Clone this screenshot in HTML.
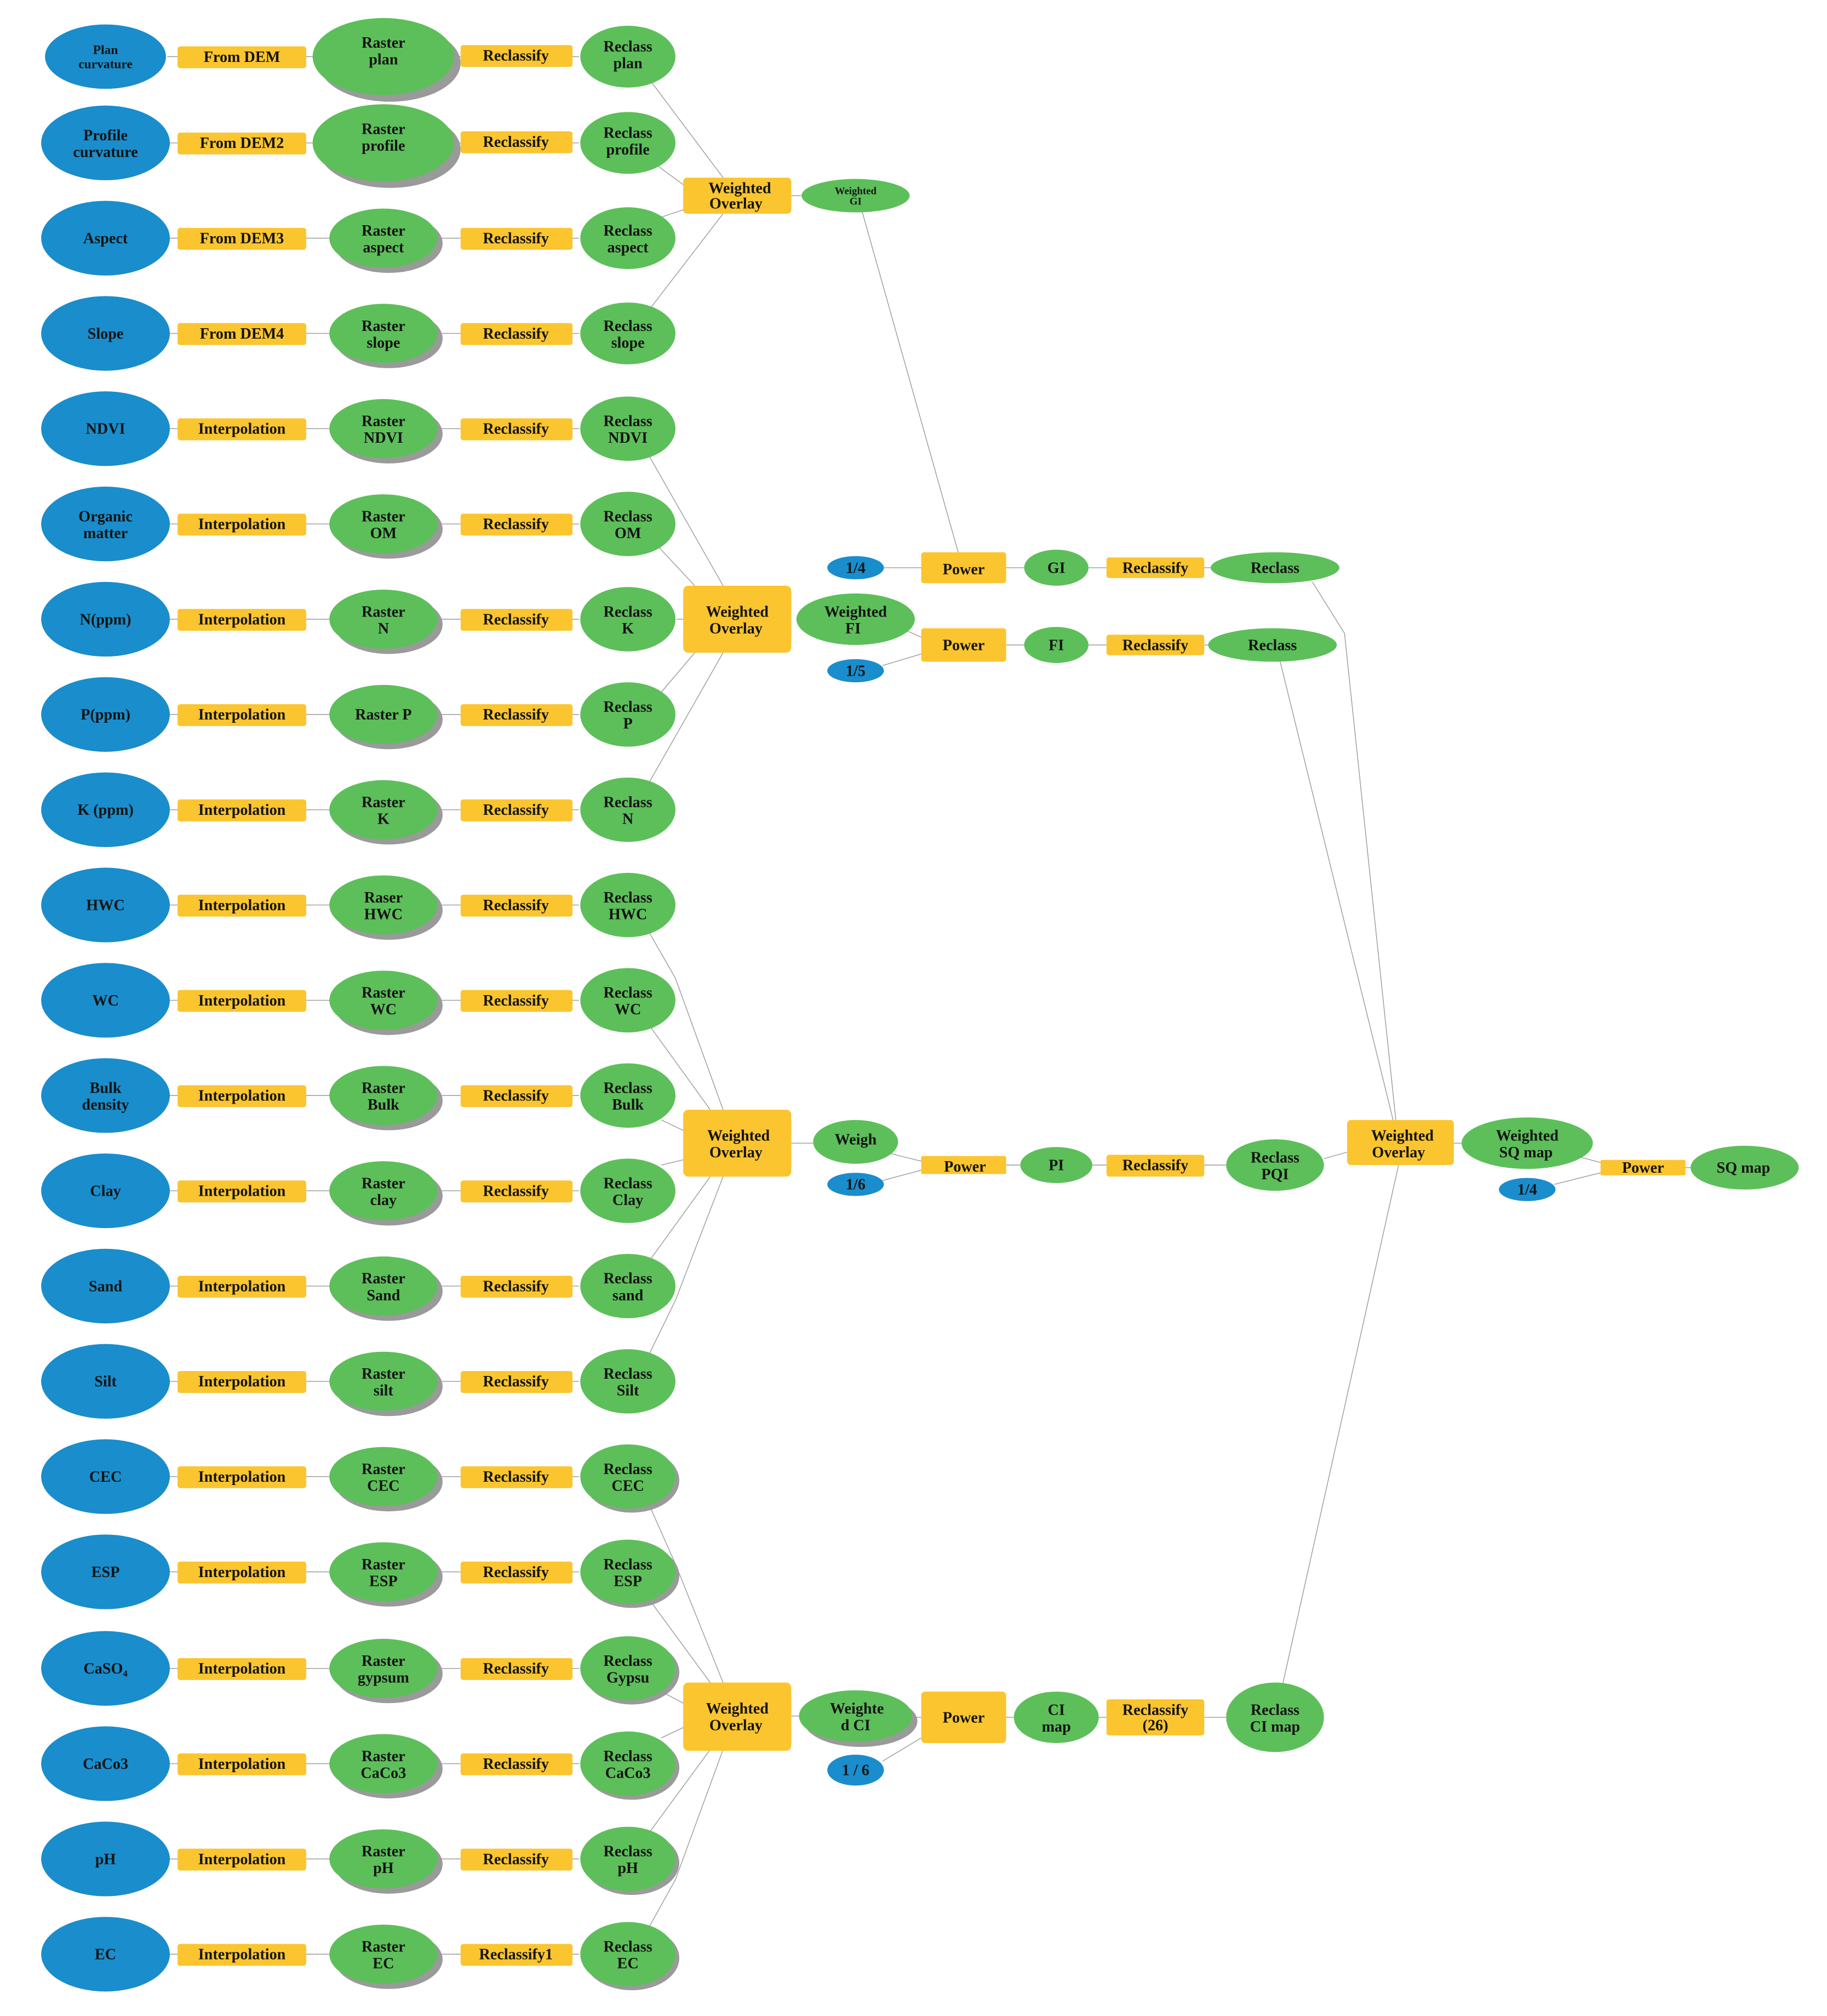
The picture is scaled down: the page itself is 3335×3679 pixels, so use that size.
<!DOCTYPE html>
<html><head><meta charset="utf-8"><style>
html,body{margin:0;padding:0;background:#fff;}
svg{display:block}
.b{fill:#1a8dcc}.g{fill:#5dbf5a}.o{fill:#fbc52f}.s{fill:#9a9a9a}
text{font-family:"Liberation Serif",serif;font-weight:bold;font-size:12px;fill:#141414;text-anchor:middle}
line,polyline{stroke:#9a9a9a;stroke-width:0.6;fill:none}
</style></head><body>
<svg width="3335" height="3679" viewBox="0 0 1420 1566" preserveAspectRatio="none" xmlns="http://www.w3.org/2000/svg">
<rect width="1420" height="1566" fill="#fff"/>
<!-- horizontal row connectors -->
<g>
<line x1="130" y1="44" x2="450" y2="44"/><line x1="130" y1="111" x2="450" y2="111"/><line x1="130" y1="185" x2="450" y2="185"/><line x1="130" y1="259" x2="450" y2="259"/><line x1="130" y1="333" x2="450" y2="333"/><line x1="130" y1="407" x2="450" y2="407"/><line x1="130" y1="481" x2="450" y2="481"/><line x1="130" y1="555" x2="450" y2="555"/><line x1="130" y1="629" x2="450" y2="629"/><line x1="130" y1="703" x2="450" y2="703"/><line x1="130" y1="777" x2="450" y2="777"/><line x1="130" y1="851" x2="450" y2="851"/><line x1="130" y1="925" x2="450" y2="925"/><line x1="130" y1="999" x2="450" y2="999"/><line x1="130" y1="1073" x2="450" y2="1073"/><line x1="130" y1="1147" x2="450" y2="1147"/><line x1="130" y1="1221" x2="450" y2="1221"/><line x1="130" y1="1296" x2="450" y2="1296"/><line x1="130" y1="1370" x2="450" y2="1370"/><line x1="130" y1="1444" x2="450" y2="1444"/><line x1="130" y1="1518" x2="450" y2="1518"/>
</g>
<!-- lines to weighted overlays -->
<g>
<line x1="505" y1="62" x2="562" y2="138"/><line x1="510" y1="128" x2="540" y2="150"/><line x1="510" y1="170" x2="540" y2="160"/><line x1="505" y1="240" x2="562" y2="166"/>
<line x1="505" y1="355" x2="562" y2="455"/><line x1="512" y1="425" x2="540" y2="455"/><line x1="526" y1="481" x2="531" y2="481"/><line x1="512" y1="540" x2="540" y2="507"/><line x1="505" y1="607" x2="562" y2="507"/>
<polyline points="505,725 525,760 562,862"/><line x1="505" y1="797" x2="552" y2="862"/><line x1="514" y1="870" x2="535" y2="880"/><line x1="514" y1="905" x2="535" y2="900"/><line x1="505" y1="979" x2="552" y2="914"/><polyline points="505,1051 525,1010 562,914"/>
<polyline points="505,1170 525,1215 562,1307"/><line x1="505" y1="1243" x2="552" y2="1307"/><line x1="514" y1="1314" x2="535" y2="1325"/><line x1="514" y1="1350" x2="535" y2="1340"/><line x1="505" y1="1423" x2="552" y2="1359"/><polyline points="505,1496 525,1460 562,1359"/>
<!-- right side -->
<line x1="615" y1="152" x2="623" y2="152"/><line x1="670" y1="164" x2="745" y2="430"/>
<line x1="687" y1="441" x2="716" y2="441"/><line x1="782" y1="441" x2="796" y2="441"/><line x1="846" y1="441" x2="860" y2="441"/><line x1="936" y1="441" x2="941" y2="441"/>
<line x1="705" y1="490" x2="716" y2="495"/><line x1="686" y1="517" x2="716" y2="508"/><line x1="782" y1="501" x2="796" y2="501"/><line x1="846" y1="501" x2="860" y2="501"/><line x1="936" y1="501" x2="941" y2="501"/>
<polyline points="1020,452 1045,492 1085,871"/><line x1="995" y1="514" x2="1083" y2="871"/>
<line x1="615" y1="888" x2="632" y2="888"/><line x1="692" y1="896" x2="716" y2="902"/><line x1="686" y1="917" x2="716" y2="909"/><line x1="782" y1="905" x2="793" y2="905"/><line x1="849" y1="905" x2="860" y2="905"/><line x1="936" y1="905" x2="953" y2="905"/><line x1="1029" y1="900" x2="1047" y2="895"/>
<line x1="997" y1="1308" x2="1087" y2="905"/>
<line x1="615" y1="1333" x2="621" y2="1333"/><line x1="709" y1="1334" x2="716" y2="1334"/><line x1="686" y1="1368" x2="716" y2="1350"/><line x1="782" y1="1334" x2="788" y2="1334"/><line x1="854" y1="1334" x2="860" y2="1334"/><line x1="936" y1="1334" x2="953" y2="1334"/>
<line x1="1130" y1="888" x2="1137" y2="888"/><line x1="1225" y1="898" x2="1244" y2="903"/><line x1="1208" y1="920" x2="1244" y2="911"/><line x1="1310" y1="907" x2="1314" y2="907"/>
</g>

<!-- Row nodes -->
<g id="rows">
<!-- row 1 -->
<ellipse class="b" cx="82" cy="44" rx="47" ry="25"/>
<rect class="o" x="138" y="36" width="100" height="17" rx="2"/>
<ellipse class="s" cx="303" cy="49" rx="55" ry="30"/><ellipse class="g" cx="298" cy="44" rx="55" ry="30"/>
<rect class="o" x="358" y="35" width="87" height="17" rx="2"/>
<ellipse class="g" cx="488" cy="44" rx="37" ry="24"/>
<text x="82" y="42" style="font-size:10px">Plan</text><text x="82" y="53" style="font-size:10px">curvature</text>
<text x="188" y="48">From DEM</text><text x="298" y="37">Raster</text><text x="298" y="50">plan</text>
<text x="401" y="47">Reclassify</text><text x="488" y="40">Reclass</text><text x="488" y="53">plan</text>
<!-- row 2 -->
<ellipse class="b" cx="82" cy="111" rx="50" ry="29"/>
<rect class="o" x="138" y="103" width="100" height="17" rx="2"/>
<ellipse class="s" cx="303" cy="116" rx="55" ry="30"/><ellipse class="g" cx="298" cy="111" rx="55" ry="30"/>
<rect class="o" x="358" y="102" width="87" height="17" rx="2"/>
<ellipse class="g" cx="488" cy="111" rx="37" ry="24"/>
<text x="82" y="109">Profile</text><text x="82" y="122">curvature</text>
<text x="188" y="115">From DEM2</text><text x="298" y="104">Raster</text><text x="298" y="117">profile</text>
<text x="401" y="114">Reclassify</text><text x="488" y="107">Reclass</text><text x="488" y="120">profile</text>
<!-- row 3 -->
<ellipse class="b" cx="82" cy="185" rx="50" ry="29"/>
<rect class="o" x="138" y="177" width="100" height="17" rx="2"/>
<ellipse class="s" cx="302" cy="189" rx="42" ry="23"/><ellipse class="g" cx="298" cy="185" rx="42" ry="23"/>
<rect class="o" x="358" y="177" width="87" height="17" rx="2"/>
<ellipse class="g" cx="488" cy="185" rx="37" ry="24"/>
<text x="82" y="189">Aspect</text>
<text x="188" y="189">From DEM3</text><text x="298" y="183">Raster</text><text x="298" y="196">aspect</text>
<text x="401" y="189">Reclassify</text><text x="488" y="183">Reclass</text><text x="488" y="196">aspect</text>
<!-- row 4 -->
<ellipse class="b" cx="82" cy="259" rx="50" ry="29"/>
<rect class="o" x="138" y="251" width="100" height="17" rx="2"/>
<ellipse class="s" cx="302" cy="263" rx="42" ry="23"/><ellipse class="g" cx="298" cy="259" rx="42" ry="23"/>
<rect class="o" x="358" y="251" width="87" height="17" rx="2"/>
<ellipse class="g" cx="488" cy="259" rx="37" ry="24"/>
<text x="82" y="263">Slope</text>
<text x="188" y="263">From DEM4</text><text x="298" y="257">Raster</text><text x="298" y="270">slope</text>
<text x="401" y="263">Reclassify</text><text x="488" y="257">Reclass</text><text x="488" y="270">slope</text>
</g>

<!-- Interpolation rows -->
<g>
<!-- template per row: Y -->
<!-- 5 NDVI 333 -->
<ellipse class="b" cx="82" cy="333" rx="50" ry="29"/><rect class="o" x="138" y="325" width="100" height="17" rx="2"/><ellipse class="s" cx="302" cy="337" rx="42" ry="23"/><ellipse class="g" cx="298" cy="333" rx="42" ry="23"/><rect class="o" x="358" y="325" width="87" height="17" rx="2"/><ellipse class="g" cx="488" cy="333" rx="37" ry="25"/>
<text x="82" y="337">NDVI</text><text x="188" y="337">Interpolation</text><text x="298" y="331">Raster</text><text x="298" y="344">NDVI</text><text x="401" y="337">Reclassify</text><text x="488" y="331">Reclass</text><text x="488" y="344">NDVI</text>
<!-- 6 OM 407 -->
<ellipse class="b" cx="82" cy="407" rx="50" ry="29"/><rect class="o" x="138" y="399" width="100" height="17" rx="2"/><ellipse class="s" cx="302" cy="411" rx="42" ry="23"/><ellipse class="g" cx="298" cy="407" rx="42" ry="23"/><rect class="o" x="358" y="399" width="87" height="17" rx="2"/><ellipse class="g" cx="488" cy="407" rx="37" ry="25"/>
<text x="82" y="405">Organic</text><text x="82" y="418">matter</text><text x="188" y="411">Interpolation</text><text x="298" y="405">Raster</text><text x="298" y="418">OM</text><text x="401" y="411">Reclassify</text><text x="488" y="405">Reclass</text><text x="488" y="418">OM</text>
<!-- 7 N 481 -->
<ellipse class="b" cx="82" cy="481" rx="50" ry="29"/><rect class="o" x="138" y="473" width="100" height="17" rx="2"/><ellipse class="s" cx="302" cy="485" rx="42" ry="23"/><ellipse class="g" cx="298" cy="481" rx="42" ry="23"/><rect class="o" x="358" y="473" width="87" height="17" rx="2"/><ellipse class="g" cx="488" cy="481" rx="37" ry="25"/>
<text x="82" y="485">N(ppm)</text><text x="188" y="485">Interpolation</text><text x="298" y="479">Raster</text><text x="298" y="492">N</text><text x="401" y="485">Reclassify</text><text x="488" y="479">Reclass</text><text x="488" y="492">K</text>
<!-- 8 P 555 -->
<ellipse class="b" cx="82" cy="555" rx="50" ry="29"/><rect class="o" x="138" y="547" width="100" height="17" rx="2"/><ellipse class="s" cx="302" cy="559" rx="42" ry="23"/><ellipse class="g" cx="298" cy="555" rx="42" ry="23"/><rect class="o" x="358" y="547" width="87" height="17" rx="2"/><ellipse class="g" cx="488" cy="555" rx="37" ry="25"/>
<text x="82" y="559">P(ppm)</text><text x="188" y="559">Interpolation</text><text x="298" y="559">Raster P</text><text x="401" y="559">Reclassify</text><text x="488" y="553">Reclass</text><text x="488" y="566">P</text>
<!-- 9 K 629 -->
<ellipse class="b" cx="82" cy="629" rx="50" ry="29"/><rect class="o" x="138" y="621" width="100" height="17" rx="2"/><ellipse class="s" cx="302" cy="633" rx="42" ry="23"/><ellipse class="g" cx="298" cy="629" rx="42" ry="23"/><rect class="o" x="358" y="621" width="87" height="17" rx="2"/><ellipse class="g" cx="488" cy="629" rx="37" ry="25"/>
<text x="82" y="633">K (ppm)</text><text x="188" y="633">Interpolation</text><text x="298" y="627">Raster</text><text x="298" y="640">K</text><text x="401" y="633">Reclassify</text><text x="488" y="627">Reclass</text><text x="488" y="640">N</text>
<!-- 10 HWC 703 -->
<ellipse class="b" cx="82" cy="703" rx="50" ry="29"/><rect class="o" x="138" y="695" width="100" height="17" rx="2"/><ellipse class="s" cx="302" cy="707" rx="42" ry="23"/><ellipse class="g" cx="298" cy="703" rx="42" ry="23"/><rect class="o" x="358" y="695" width="87" height="17" rx="2"/><ellipse class="g" cx="488" cy="703" rx="37" ry="25"/>
<text x="82" y="707">HWC</text><text x="188" y="707">Interpolation</text><text x="298" y="701">Raser</text><text x="298" y="714">HWC</text><text x="401" y="707">Reclassify</text><text x="488" y="701">Reclass</text><text x="488" y="714">HWC</text>
<!-- 11 WC 777 -->
<ellipse class="b" cx="82" cy="777" rx="50" ry="29"/><rect class="o" x="138" y="769" width="100" height="17" rx="2"/><ellipse class="s" cx="302" cy="781" rx="42" ry="23"/><ellipse class="g" cx="298" cy="777" rx="42" ry="23"/><rect class="o" x="358" y="769" width="87" height="17" rx="2"/><ellipse class="g" cx="488" cy="777" rx="37" ry="25"/>
<text x="82" y="781">WC</text><text x="188" y="781">Interpolation</text><text x="298" y="775">Raster</text><text x="298" y="788">WC</text><text x="401" y="781">Reclassify</text><text x="488" y="775">Reclass</text><text x="488" y="788">WC</text>
<!-- 12 Bulk 851 -->
<ellipse class="b" cx="82" cy="851" rx="50" ry="29"/><rect class="o" x="138" y="843" width="100" height="17" rx="2"/><ellipse class="s" cx="302" cy="855" rx="42" ry="23"/><ellipse class="g" cx="298" cy="851" rx="42" ry="23"/><rect class="o" x="358" y="843" width="87" height="17" rx="2"/><ellipse class="g" cx="488" cy="851" rx="37" ry="25"/>
<text x="82" y="849">Bulk</text><text x="82" y="862">density</text><text x="188" y="855">Interpolation</text><text x="298" y="849">Raster</text><text x="298" y="862">Bulk</text><text x="401" y="855">Reclassify</text><text x="488" y="849">Reclass</text><text x="488" y="862">Bulk</text>
<!-- 13 Clay 925 -->
<ellipse class="b" cx="82" cy="925" rx="50" ry="29"/><rect class="o" x="138" y="917" width="100" height="17" rx="2"/><ellipse class="s" cx="302" cy="929" rx="42" ry="23"/><ellipse class="g" cx="298" cy="925" rx="42" ry="23"/><rect class="o" x="358" y="917" width="87" height="17" rx="2"/><ellipse class="g" cx="488" cy="925" rx="37" ry="25"/>
<text x="82" y="929">Clay</text><text x="188" y="929">Interpolation</text><text x="298" y="923">Raster</text><text x="298" y="936">clay</text><text x="401" y="929">Reclassify</text><text x="488" y="923">Reclass</text><text x="488" y="936">Clay</text>
<!-- 14 Sand 999 -->
<ellipse class="b" cx="82" cy="999" rx="50" ry="29"/><rect class="o" x="138" y="991" width="100" height="17" rx="2"/><ellipse class="s" cx="302" cy="1003" rx="42" ry="23"/><ellipse class="g" cx="298" cy="999" rx="42" ry="23"/><rect class="o" x="358" y="991" width="87" height="17" rx="2"/><ellipse class="g" cx="488" cy="999" rx="37" ry="25"/>
<text x="82" y="1003">Sand</text><text x="188" y="1003">Interpolation</text><text x="298" y="997">Raster</text><text x="298" y="1010">Sand</text><text x="401" y="1003">Reclassify</text><text x="488" y="997">Reclass</text><text x="488" y="1010">sand</text>
<!-- 15 Silt 1073 -->
<ellipse class="b" cx="82" cy="1073" rx="50" ry="29"/><rect class="o" x="138" y="1065" width="100" height="17" rx="2"/><ellipse class="s" cx="302" cy="1077" rx="42" ry="23"/><ellipse class="g" cx="298" cy="1073" rx="42" ry="23"/><rect class="o" x="358" y="1065" width="87" height="17" rx="2"/><ellipse class="g" cx="488" cy="1073" rx="37" ry="25"/>
<text x="82" y="1077">Silt</text><text x="188" y="1077">Interpolation</text><text x="298" y="1071">Raster</text><text x="298" y="1084">silt</text><text x="401" y="1077">Reclassify</text><text x="488" y="1071">Reclass</text><text x="488" y="1084">Silt</text>
<!-- 16 CEC 1147 -->
<ellipse class="b" cx="82" cy="1147" rx="50" ry="29"/><rect class="o" x="138" y="1139" width="100" height="17" rx="2"/><ellipse class="s" cx="302" cy="1151" rx="42" ry="23"/><ellipse class="g" cx="298" cy="1147" rx="42" ry="23"/><rect class="o" x="358" y="1139" width="87" height="17" rx="2"/><ellipse class="s" cx="491" cy="1150" rx="37" ry="25"/><ellipse class="g" cx="488" cy="1147" rx="37" ry="25"/>
<text x="82" y="1151">CEC</text><text x="188" y="1151">Interpolation</text><text x="298" y="1145">Raster</text><text x="298" y="1158">CEC</text><text x="401" y="1151">Reclassify</text><text x="488" y="1145">Reclass</text><text x="488" y="1158">CEC</text>
<!-- 17 ESP 1221 -->
<ellipse class="b" cx="82" cy="1221" rx="50" ry="29"/><rect class="o" x="138" y="1213" width="100" height="17" rx="2"/><ellipse class="s" cx="302" cy="1225" rx="42" ry="23"/><ellipse class="g" cx="298" cy="1221" rx="42" ry="23"/><rect class="o" x="358" y="1213" width="87" height="17" rx="2"/><ellipse class="s" cx="491" cy="1224" rx="37" ry="25"/><ellipse class="g" cx="488" cy="1221" rx="37" ry="25"/>
<text x="82" y="1225">ESP</text><text x="188" y="1225">Interpolation</text><text x="298" y="1219">Raster</text><text x="298" y="1232">ESP</text><text x="401" y="1225">Reclassify</text><text x="488" y="1219">Reclass</text><text x="488" y="1232">ESP</text>
<!-- 18 CaSO4 1296 -->
<ellipse class="b" cx="82" cy="1296" rx="50" ry="29"/><rect class="o" x="138" y="1288" width="100" height="17" rx="2"/><ellipse class="s" cx="302" cy="1300" rx="42" ry="23"/><ellipse class="g" cx="298" cy="1296" rx="42" ry="23"/><rect class="o" x="358" y="1288" width="87" height="17" rx="2"/><ellipse class="s" cx="491" cy="1299" rx="37" ry="25"/><ellipse class="g" cx="488" cy="1296" rx="37" ry="25"/>
<text x="82" y="1300">CaSO₄</text><text x="188" y="1300">Interpolation</text><text x="298" y="1294">Raster</text><text x="298" y="1307">gypsum</text><text x="401" y="1300">Reclassify</text><text x="488" y="1294">Reclass</text><text x="488" y="1307">Gypsu</text>
<!-- 19 CaCo3 1370 -->
<ellipse class="b" cx="82" cy="1370" rx="50" ry="29"/><rect class="o" x="138" y="1362" width="100" height="17" rx="2"/><ellipse class="s" cx="302" cy="1374" rx="42" ry="23"/><ellipse class="g" cx="298" cy="1370" rx="42" ry="23"/><rect class="o" x="358" y="1362" width="87" height="17" rx="2"/><ellipse class="s" cx="491" cy="1373" rx="37" ry="25"/><ellipse class="g" cx="488" cy="1370" rx="37" ry="25"/>
<text x="82" y="1374">CaCo3</text><text x="188" y="1374">Interpolation</text><text x="298" y="1368">Raster</text><text x="298" y="1381">CaCo3</text><text x="401" y="1374">Reclassify</text><text x="488" y="1368">Reclass</text><text x="488" y="1381">CaCo3</text>
<!-- 20 pH 1444 -->
<ellipse class="b" cx="82" cy="1444" rx="50" ry="29"/><rect class="o" x="138" y="1436" width="100" height="17" rx="2"/><ellipse class="s" cx="302" cy="1448" rx="42" ry="23"/><ellipse class="g" cx="298" cy="1444" rx="42" ry="23"/><rect class="o" x="358" y="1436" width="87" height="17" rx="2"/><ellipse class="s" cx="491" cy="1447" rx="37" ry="25"/><ellipse class="g" cx="488" cy="1444" rx="37" ry="25"/>
<text x="82" y="1448">pH</text><text x="188" y="1448">Interpolation</text><text x="298" y="1442">Raster</text><text x="298" y="1455">pH</text><text x="401" y="1448">Reclassify</text><text x="488" y="1442">Reclass</text><text x="488" y="1455">pH</text>
<!-- 21 EC 1518 -->
<ellipse class="b" cx="82" cy="1518" rx="50" ry="29"/><rect class="o" x="138" y="1510" width="100" height="17" rx="2"/><ellipse class="s" cx="302" cy="1522" rx="42" ry="23"/><ellipse class="g" cx="298" cy="1518" rx="42" ry="23"/><rect class="o" x="358" y="1510" width="87" height="17" rx="2"/><ellipse class="s" cx="491" cy="1521" rx="37" ry="25"/><ellipse class="g" cx="488" cy="1518" rx="37" ry="25"/>
<text x="82" y="1522">EC</text><text x="188" y="1522">Interpolation</text><text x="298" y="1516">Raster</text><text x="298" y="1529">EC</text><text x="401" y="1522">Reclassify1</text><text x="488" y="1516">Reclass</text><text x="488" y="1529">EC</text>
</g>

<!-- Weighted overlays -->
<rect class="o" x="531" y="138" width="84" height="28" rx="3"/><text x="575" y="150">Weighted</text><text x="572" y="162">Overlay</text>
<ellipse class="g" cx="665" cy="152" rx="42" ry="13"/><text x="665" y="151" style="font-size:8px">Weighted</text><text x="665" y="159" style="font-size:8px">GI</text>
<rect class="o" x="531" y="455" width="84" height="52" rx="4"/><text x="573" y="479">Weighted</text><text x="572" y="492">Overlay</text>
<ellipse class="g" cx="665" cy="481" rx="46" ry="20"/><text x="665" y="479">Weighted</text><text x="663" y="492">FI</text>
<rect class="o" x="531" y="862" width="84" height="52" rx="4"/><text x="574" y="886">Weighted</text><text x="572" y="899">Overlay</text>
<ellipse class="g" cx="665" cy="887" rx="33" ry="17"/><text x="665" y="889">Weigh</text>
<rect class="o" x="531" y="1307" width="84" height="53" rx="4"/><text x="573" y="1331">Weighted</text><text x="572" y="1344">Overlay</text>
<ellipse class="s" cx="669" cy="1337" rx="44" ry="20"/><ellipse class="g" cx="665" cy="1333" rx="44" ry="20"/><text x="666" y="1331">Weighte</text><text x="665" y="1344">d CI</text>

<!-- GI row -->
<ellipse class="b" cx="665" cy="441" rx="22" ry="9"/><text x="665" y="445">1/4</text>
<rect class="o" x="716" y="429" width="66" height="24" rx="2"/><text x="749" y="446">Power</text>
<ellipse class="g" cx="821" cy="441" rx="25" ry="14"/><text x="821" y="445">GI</text>
<rect class="o" x="860" y="433" width="76" height="16" rx="2"/><text x="898" y="445">Reclassify</text>
<ellipse class="g" cx="991" cy="441" rx="50" ry="12"/><text x="991" y="445">Reclass</text>
<!-- FI row -->
<rect class="o" x="716" y="488" width="66" height="26" rx="2"/><text x="749" y="505">Power</text>
<ellipse class="b" cx="665" cy="521" rx="22" ry="9"/><text x="665" y="525">1/5</text>
<ellipse class="g" cx="821" cy="501" rx="25" ry="14"/><text x="821" y="505">FI</text>
<rect class="o" x="860" y="493" width="76" height="16" rx="2"/><text x="898" y="505">Reclassify</text>
<ellipse class="g" cx="989" cy="501" rx="50" ry="13"/><text x="989" y="505">Reclass</text>
<!-- PI row -->
<ellipse class="b" cx="665" cy="920" rx="22" ry="9"/><text x="665" y="924">1/6</text>
<rect class="o" x="716" y="898" width="66" height="14" rx="1"/><text x="750" y="910">Power</text>
<ellipse class="g" cx="821" cy="905" rx="28" ry="14"/><text x="821" y="909">PI</text>
<rect class="o" x="860" y="897" width="76" height="17" rx="2"/><text x="898" y="909">Reclassify</text>
<ellipse class="g" cx="991" cy="905" rx="38" ry="20"/><text x="991" y="903">Reclass</text><text x="991" y="916">PQI</text>
<!-- CI row -->
<rect class="o" x="716" y="1314" width="66" height="40" rx="3"/><text x="749" y="1338">Power</text>
<ellipse class="g" cx="821" cy="1334" rx="33" ry="20"/><text x="821" y="1332">CI</text><text x="821" y="1345">map</text>
<rect class="o" x="860" y="1320" width="76" height="28" rx="2"/><text x="898" y="1332">Reclassify</text><text x="898" y="1344">(26)</text>
<ellipse class="g" cx="991" cy="1334" rx="38" ry="27"/><text x="991" y="1332">Reclass</text><text x="991" y="1345">CI map</text>
<ellipse class="b" cx="665" cy="1375" rx="22" ry="12"/><text x="665" y="1379">1 / 6</text>
<!-- final -->
<rect class="o" x="1047" y="870" width="83" height="35" rx="3"/><text x="1090" y="886">Weighted</text><text x="1087" y="899">Overlay</text>
<ellipse class="g" cx="1187" cy="888" rx="51" ry="20"/><text x="1187" y="886">Weighted</text><text x="1186" y="899">SQ map</text>
<rect class="o" x="1244" y="901" width="66" height="12" rx="1"/><text x="1277" y="911">Power</text>
<ellipse class="g" cx="1356" cy="907" rx="42" ry="17"/><text x="1355" y="911">SQ map</text>
<ellipse class="b" cx="1187" cy="924" rx="22" ry="9"/><text x="1187" y="928">1/4</text>
</svg>
</body></html>
